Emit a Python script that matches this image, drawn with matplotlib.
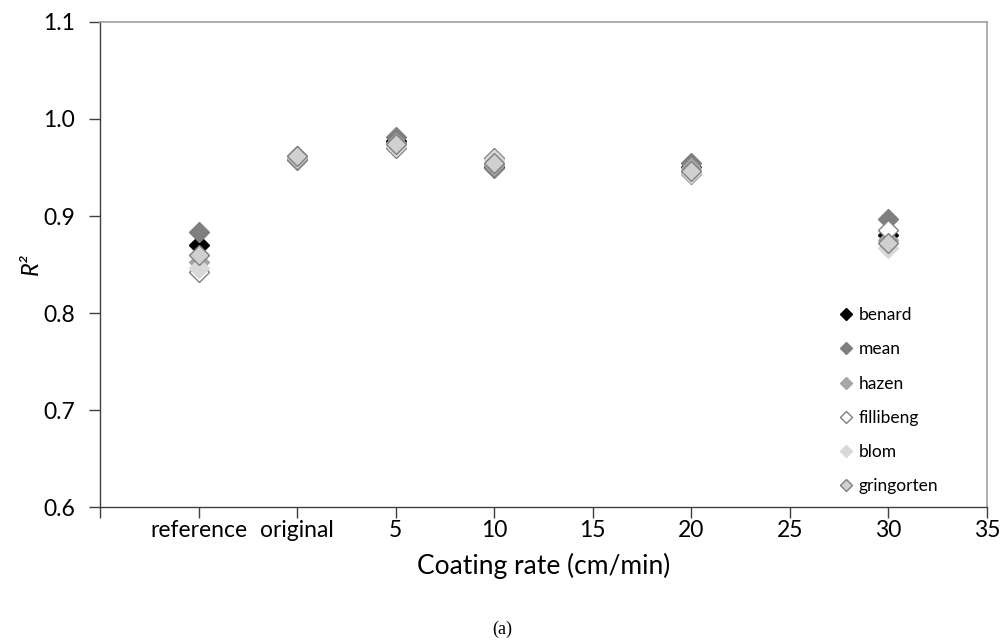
import matplotlib
matplotlib.use('Agg')
import matplotlib.pyplot as plt

# x positions on a category-like axis; labels sit at 1..9
tick_labels = ['', 'reference', 'original', '5', '10', '15', '20', '25', '30', '35']
x_pos = [1, 2, 3, 4, 6, 8]  # reference, original, 5, 10, 20, 30

benard = [0.870, 0.960, 0.977, 0.951, 0.951, 0.880]
mean = [0.883, 0.958, 0.981, 0.949, 0.955, 0.897]
hazen = [0.853, 0.960, 0.975, 0.953, 0.949, 0.875]
fillibeng = [0.842, 0.962, 0.970, 0.960, 0.943, 0.886]
blom = [0.846, 0.961, 0.972, 0.958, 0.944, 0.867]
gringorten = [0.860, 0.962, 0.974, 0.955, 0.946, 0.872]

names = ['benard', 'mean', 'hazen', 'fillibeng', 'blom', 'gringorten']
series = [benard, mean, hazen, fillibeng, blom, gringorten]
faces = ['#000000', '#7f7f7f', '#a6a6a6', '#ffffff', '#d9d9d9', '#d0d0d0']
edges = ['#000000', '#7f7f7f', '#a6a6a6', '#7f7f7f', '#d9d9d9', '#7f7f7f']

plt.rcParams['font.family'] = ['Lato', 'DejaVu Sans']

fig = plt.figure(figsize=(10.05, 6.41), dpi=100)
ax = fig.add_axes([0.0995, 0.209, 0.8825, 0.7567])

for ys, name, fc, ec in zip(series, names, faces, edges):
    ax.plot(x_pos, ys, linestyle='none', marker='D', markersize=10.5,
            markerfacecolor=fc, markeredgecolor=ec, markeredgewidth=1.0,
            label=name)

ax.set_xlim(0, 9)
ax.set_ylim(0.6, 1.1)
ax.set_xticks(range(10))
ax.set_xticklabels(tick_labels)
ax.set_yticks([0.6, 0.7, 0.8, 0.9, 1.0, 1.1])
ax.set_yticklabels(['0.6', '0.7', '0.8', '0.9', '1.0', '1.1'])
ax.tick_params(axis='both', labelsize=16.5, length=8, width=1, color='#404040',
               direction='out')
ax.tick_params(axis='x', pad=1)
ax.tick_params(axis='y', pad=10)

for s in ['left', 'bottom']:
    ax.spines[s].set_color('#404040')
    ax.spines[s].set_linewidth(1)
for s in ['top', 'right']:
    ax.spines[s].set_color('#a0a0a0')
    ax.spines[s].set_linewidth(1.2)

ax.set_xlabel('Coating rate (cm/min)', fontsize=19, labelpad=9)
ax.set_ylabel('R²', fontsize=17, style='italic', labelpad=1)

leg = ax.legend(loc='upper left', bbox_to_anchor=(0.826, 0.43), frameon=False,
                fontsize=12.5, markerscale=0.55, handlelength=0.6,
                handletextpad=0.4, labelspacing=1.05, borderpad=0)

fig.text(0.5, 0.005, '(a)', ha='center', va='bottom', fontsize=13,
         family=['Liberation Serif', 'DejaVu Serif'])

fig.savefig('out.png', dpi=100)
